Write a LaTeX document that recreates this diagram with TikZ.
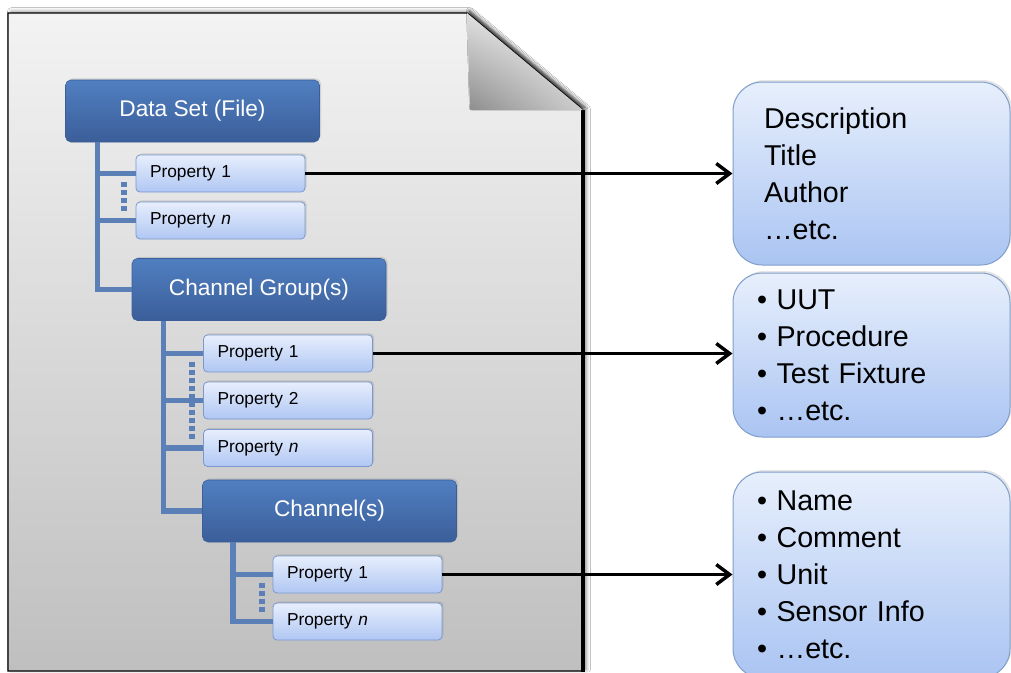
\documentclass[tikz,border=0pt]{standalone}
\usepackage{fontspec}
\setmainfont{Liberation Sans}
\usetikzlibrary{arrows.meta,shadows,shadows.blur,shadings}

\definecolor{pageTop}{RGB}{243,243,243}
\definecolor{pageBottom}{RGB}{191,191,191}
\definecolor{headTop}{RGB}{80,127,193}
\definecolor{headBottom}{RGB}{59,94,153}
\definecolor{propTop}{RGB}{231,238,253}
\definecolor{propBottom}{RGB}{176,199,243}
\definecolor{propLine}{RGB}{122,152,206}
\definecolor{treeBlue}{RGB}{90,128,183}
\definecolor{infoTop}{RGB}{231,239,252}
\definecolor{infoBottom}{RGB}{170,196,242}
\definecolor{infoLine}{RGB}{128,158,204}

\tikzset{every picture/.style={line width=0.75pt}}
\tikzset{
  headbox/.style={rounded corners=4pt, top color=headTop, bottom color=headBottom,
    draw=headBottom, line width=0.4pt, minimum width=190.5pt, minimum height=46.5pt,
    inner sep=0pt, text=white, font=\fontsize{17}{20}\selectfont,
    drop shadow={opacity=0.25, shadow xshift=1.2pt, shadow yshift=1.2pt}},
  propbox/.style={rounded corners=3pt, top color=propTop, bottom color=propBottom,
    draw=propLine, line width=0.6pt, text width=105.75pt, inner xsep=10.5pt, inner ysep=0pt,
    minimum height=27.75pt, align=left, font=\fontsize{13}{15}\selectfont,
    drop shadow={opacity=0.25, shadow xshift=1.2pt, shadow yshift=1.2pt}},
  infobox/.style={rounded corners=22pt, top color=infoTop, bottom color=infoBottom,
    draw=infoLine, line width=0.75pt, inner ysep=0pt, align=left,
    font=\fontsize{21.5}{27.75}\selectfont,
    drop shadow={opacity=0.2, shadow xshift=1.5pt, shadow yshift=1.5pt}},
  treeline/.style={draw=treeBlue, line width=4pt},
  dotline/.style={draw=treeBlue, line width=4.5pt, dash pattern=on 4pt off 2pt},
  infoarrow/.style={line width=2.6pt, -{Straight Barb[length=10pt,width=15pt]}}
}

\begin{document}
\begin{tikzpicture}[x=0.75pt,y=0.75pt,yscale=-1,xscale=1]
        \clip (0,0) rectangle (1011,672);
        \fill[white] (0,0) rectangle (1011,672);

        %Shape: Page
        \shade[top color=pageTop, bottom color=pageBottom,
          blur shadow={shadow xshift=2.5pt, shadow yshift=1pt, shadow blur radius=3pt, shadow opacity=45}]
          (8,13) -- (467,13) -- (583,110) -- (583,671) -- (8,671) -- cycle ;
        \draw[line width=1.1pt] (583,110) -- (467,13) -- (8,13) -- (8,671) -- (583,671) ;
        \draw[line width=2.6pt] (583,110) -- (583,672) ;
        %Shape: Folded corner
        \shade[upper right=white, lower left=black!45, upper left=black!12, lower right=black!20,
          blur shadow={shadow xshift=1.5pt, shadow yshift=2pt, shadow blur radius=2pt, shadow opacity=60}]
          (467,13) -- (583,110) -- (470,110) -- cycle ;

        % Text Node
        \node[headbox] (ds) at (192.5,111) {Data Set (File)};
        % Text Node
        \node[propbox] (dsp1) at (220.5,173.5) {Property 1};
        % Text Node
        \node[propbox] (dspn) at (220.5,220.5) {Property \textit{n}};
        % Text Node
        \node[headbox] (cg) at (259,289.5) {Channel Group(s)};
        % Text Node
        \node[propbox] (cgp1) at (288,353.5) {Property 1};
        % Text Node
        \node[propbox] (cgp2) at (288,400.5) {Property 2};
        % Text Node
        \node[propbox] (cgpn) at (288,448) {Property \textit{n}};
        % Text Node
        \node[headbox] (ch) at (329.5,511) {Channel(s)};
        % Text Node
        \node[propbox] (chp1) at (357.5,574.5) {Property 1};
        % Text Node
        \node[propbox] (chpn) at (357.5,621.5) {Property \textit{n}};

        %Straight Lines: data set tree
        \draw[treeline] ([xshift=24pt]ds.south west) |- (dsp1.west) ;
        \draw[treeline] ([xshift=24pt]ds.south west) |- (dspn.west) ;
        \draw[treeline] ([xshift=24pt]ds.south west) |- (cg.west) ;
        \draw[dotline] ([xshift=-8.5pt,yshift=6pt]dsp1.west) -- ([xshift=-8.5pt,yshift=-6pt]dspn.west) ;
        %Straight Lines: channel group tree
        \draw[treeline] ([xshift=24pt]cg.south west) |- (cgp1.west) ;
        \draw[treeline] ([xshift=24pt]cg.south west) |- (cgp2.west) ;
        \draw[treeline] ([xshift=24pt]cg.south west) |- (cgpn.west) ;
        \draw[treeline] ([xshift=24pt]cg.south west) |- (ch.west) ;
        \draw[dotline] ([xshift=-8pt,yshift=6pt]cgp1.west) -- ([xshift=-8pt,yshift=-6pt]cgpn.west) ;
        %Straight Lines: channel tree
        \draw[treeline] ([xshift=23pt]ch.south west) |- (chp1.west) ;
        \draw[treeline] ([xshift=23pt]ch.south west) |- (chpn.west) ;
        \draw[dotline] ([xshift=-8pt,yshift=6pt]chp1.west) -- ([xshift=-8pt,yshift=-6pt]chpn.west) ;

        %Shape: Rounded Rectangle
        \node[infobox, text width=161.25pt, inner xsep=23.25pt, minimum height=137.25pt] (dsinfo) at (871.5,173.5)
          {Description\\Title\\Author\\…etc.};
        %Shape: Rounded Rectangle
        \node[infobox, text width=171.75pt, inner xsep=18pt, minimum height=123pt] (cginfo) at (871.5,355)
          {• UUT\\• Procedure\\• Test Fixture\\• …etc.};
        %Shape: Rounded Rectangle
        \node[infobox, text width=171.75pt, inner xsep=18pt, minimum height=154.5pt] (chinfo) at (871.5,575)
          {• Name\\• Comment\\• Unit\\• Sensor Info\\• …etc.};

        %Straight Lines
        \draw[infoarrow] (dsp1.east) -- (dsp1.east -| dsinfo.west) ;
        %Straight Lines
        \draw[infoarrow] (cgp1.east) -- (cgp1.east -| cginfo.west) ;
        %Straight Lines
        \draw[infoarrow] (chp1.east) -- (chp1.east -| chinfo.west) ;
    \end{tikzpicture}
\end{document}
